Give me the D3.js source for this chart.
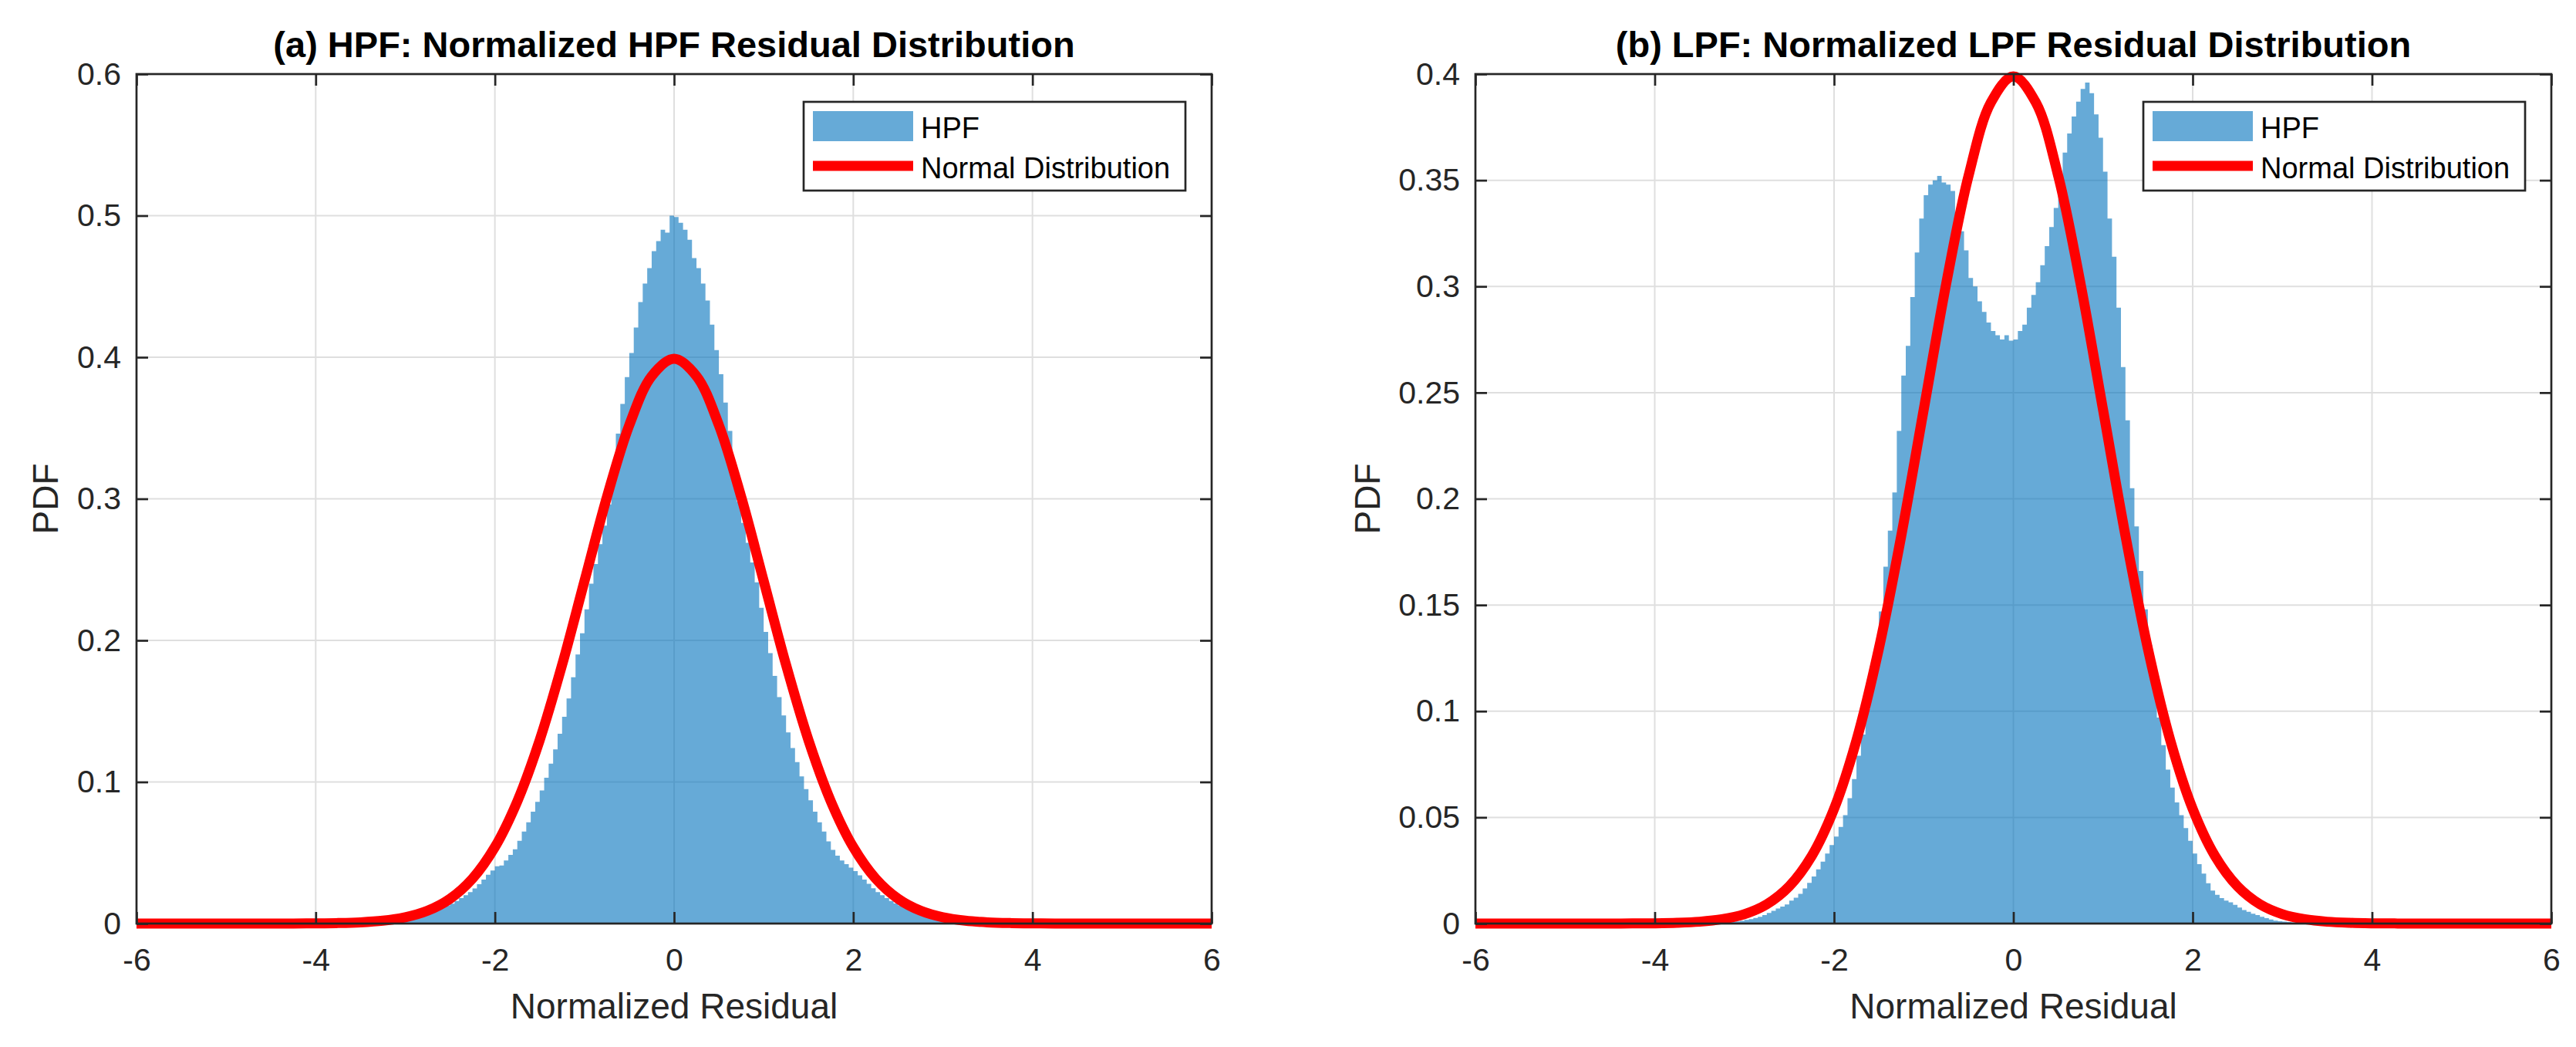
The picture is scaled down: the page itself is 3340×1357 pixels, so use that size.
<!DOCTYPE html>
<html>
<head>
<meta charset="utf-8">
<script src="https://cdn.jsdelivr.net/npm/d3@7"></script>
<style>
  body { margin: 0; background: #fff; }
  svg text { font-family: "Liberation Sans", Arial, Helvetica, sans-serif; }
</style>
</head>
<body>
<script>
// tick labels
const xTicks = [-6, -4, -2, 0, 2, 4, 6];
const yTicksHpf = [0, 0.1, 0.2, 0.3, 0.4, 0.5, 0.6];
const yTicksLpf = [0, 0.05, 0.1, 0.15, 0.2, 0.25, 0.3, 0.35, 0.4];

// histogram bins: first edge -3.5, width 0.05
const binStart = -3.5;
const binWidth = 0.05;

const hpfValues = [
  0.0004, 0.0005, 0.0007, 0.0009, 0.0011, 0.0013, 0.0016, 0.0020, 0.0024, 0.0028, // -3.5
  0.0034, 0.0041, 0.0050, 0.0060, 0.0070, 0.0080, 0.0090, 0.0102, 0.0115, 0.0128, // -3.0
  0.0140, 0.0160, 0.0180, 0.0200, 0.0222, 0.0248, 0.0278, 0.0310, 0.0345, 0.0375, // -2.5
  0.0405, 0.0410, 0.0445, 0.0485, 0.0525, 0.0585, 0.0650, 0.0715, 0.0790, 0.0860, // -2.0
  0.0940, 0.1030, 0.1130, 0.1230, 0.1340, 0.1460, 0.1590, 0.1740, 0.1900, 0.2050, // -1.5
  0.2220, 0.2400, 0.2540, 0.2680, 0.2810, 0.2960, 0.3200, 0.3460, 0.3670, 0.3860, // -1.0
  0.4030, 0.4210, 0.4390, 0.4520, 0.4630, 0.4750, 0.4820, 0.4900, 0.4880, 0.5000, // -0.5
  0.4990, 0.4950, 0.4900, 0.4830, 0.4700, 0.4630, 0.4520, 0.4400, 0.4230, 0.4050, // 0
  0.3880, 0.3680, 0.3480, 0.3240, 0.2980, 0.2830, 0.2690, 0.2550, 0.2410, 0.2230, // 0.5
  0.2060, 0.1910, 0.1750, 0.1600, 0.1470, 0.1350, 0.1240, 0.1140, 0.1040, 0.0950, // 1.0
  0.0870, 0.0790, 0.0715, 0.0650, 0.0580, 0.0520, 0.0480, 0.0445, 0.0420, 0.0395, // 1.5
  0.0370, 0.0340, 0.0310, 0.0280, 0.0250, 0.0222, 0.0200, 0.0180, 0.0160, 0.0142, // 2.0
  0.0128, 0.0115, 0.0102, 0.0090, 0.0080, 0.0070, 0.0060, 0.0050, 0.0041, 0.0034, // 2.5
  0.0028, 0.0024, 0.0020, 0.0016, 0.0013, 0.0011, 0.0009, 0.0007, 0.0005, 0.0004  // 3.0
];

const lpfValues = [
  0.0002, 0.0002, 0.0003, 0.0003, 0.0004, 0.0005, 0.0006, 0.0008, 0.0010, 0.0013, // -3.5
  0.0017, 0.0021, 0.0026, 0.0032, 0.0040, 0.0050, 0.0060, 0.0071, 0.0080, 0.0090, // -3.0
  0.0108, 0.0122, 0.0140, 0.0165, 0.0192, 0.0222, 0.0255, 0.0292, 0.0330, 0.0370, // -2.5
  0.0410, 0.0455, 0.0510, 0.0590, 0.0680, 0.0790, 0.0890, 0.1010, 0.1165, 0.1300, // -2.0
  0.1470, 0.1680, 0.1850, 0.2030, 0.2320, 0.2580, 0.2720, 0.2950, 0.3160, 0.3320, // -1.5
  0.3430, 0.3480, 0.3500, 0.3520, 0.3490, 0.3480, 0.3450, 0.3350, 0.3260, 0.3170, // -1.0
  0.3040, 0.3000, 0.2930, 0.2880, 0.2830, 0.2790, 0.2770, 0.2750, 0.2770, 0.2745, // -0.5
  0.2750, 0.2790, 0.2820, 0.2900, 0.2960, 0.3020, 0.3100, 0.3190, 0.3280, 0.3370, // 0
  0.3520, 0.3630, 0.3720, 0.3800, 0.3870, 0.3930, 0.3960, 0.3910, 0.3810, 0.3700, // 0.5
  0.3540, 0.3320, 0.3140, 0.2900, 0.2620, 0.2370, 0.2050, 0.1870, 0.1660, 0.1480, // 1.0
  0.1310, 0.1180, 0.0970, 0.0840, 0.0725, 0.0640, 0.0570, 0.0510, 0.0450, 0.0390, // 1.5
  0.0330, 0.0280, 0.0235, 0.0190, 0.0155, 0.0135, 0.0120, 0.0108, 0.0100, 0.0088, // 2.0
  0.0075, 0.0064, 0.0055, 0.0046, 0.0040, 0.0032, 0.0025, 0.0019, 0.0014, 0.0011, // 2.5
  0.0009, 0.0007, 0.0005, 0.0004, 0.0004, 0.0003, 0.0002, 0.0002, 0.0001, 0.0001  // 3.0
];

// red curve, sampled every 0.25 from -6 to 6
const normalStart = -6;
const normalStep = 0.25;
const normalPdf = [
  0, 0, 0, 0, 0, 0, 0.00002, 0.00005, 0.00013, 0.00035, 0.00087, 0.00203,
  0.00443, 0.00909, 0.01753, 0.03174, 0.05399, 0.08628, 0.12952, 0.18265, 0.24197, 0.30114,
  0.35207, 0.38667, 0.39894,
  0.38667, 0.35207, 0.30114, 0.24197, 0.18265, 0.12952, 0.08628, 0.05399, 0.03174, 0.01753,
  0.00909, 0.00443, 0.00203, 0.00087, 0.00035, 0.00013, 0.00005, 0.00002, 0, 0, 0, 0, 0, 0
];

const legendNames = ["HPF", "Normal Distribution"];

const W = 3340, H = 1357;
const TOP = 96, BOTTOM = 1197;
const INK = "#262626";
const BAR = "#0072bd";

const svg = d3.select("body").append("svg")
  .attr("width", W).attr("height", H)
  .style("background", "#fff");

function drawPanel(p) {
  const x = d3.scaleLinear().domain([-6, 6]).range([p.left, p.right]);
  const y = d3.scaleLinear().domain([0, p.yMax]).range([BOTTOM, TOP]);
  const g = svg.append("g");
  const cx = (p.left + p.right) / 2;

  // grid
  g.append("g").selectAll("line").data(xTicks.slice(1, -1)).join("line")
    .attr("x1", d => x(d)).attr("x2", d => x(d))
    .attr("y1", TOP).attr("y2", BOTTOM)
    .attr("stroke", "#dfdfdf").attr("stroke-width", 2);
  g.append("g").selectAll("line").data(p.yTicks.slice(1, -1)).join("line")
    .attr("x1", p.left).attr("x2", p.right)
    .attr("y1", d => y(d)).attr("y2", d => y(d))
    .attr("stroke", "#dfdfdf").attr("stroke-width", 2);

  // histogram as one stepped area so the bins have no seams
  const bins = p.hist.map((v, i) => ({ x0: binStart + i * binWidth, v: v }));
  bins.push({ x0: binStart + p.hist.length * binWidth, v: p.hist[p.hist.length - 1] });
  const area = d3.area()
    .curve(d3.curveStepAfter)
    .x(d => x(d.x0))
    .y0(y(0))
    .y1(d => y(d.v));
  g.append("path").datum(bins)
    .attr("d", area)
    .attr("fill", BAR).attr("fill-opacity", 0.6);

  // normal curve
  const line = d3.line()
    .curve(d3.curveCatmullRom)
    .x((d, i) => x(normalStart + i * normalStep))
    .y(d => y(d));
  g.append("path").datum(normalPdf)
    .attr("d", line)
    .attr("fill", "none")
    .attr("stroke", "#ff0000")
    .attr("stroke-width", 13)
    .attr("stroke-linejoin", "round");

  // axes, ticks pointing inward
  const fmt = d => String(+d.toFixed(2));
  const styleAxis = sel => {
    sel.attr("font-family", null).attr("font-size", 41);
    sel.select(".domain").remove();
    sel.selectAll(".tick line").attr("stroke", INK).attr("stroke-width", 2.7);
    sel.selectAll(".tick text").attr("fill", INK);
  };
  g.append("g").attr("transform", `translate(0,${BOTTOM})`)
    .call(d3.axisBottom(x).tickValues(xTicks).tickSize(-15).tickPadding(32).tickFormat(fmt))
    .call(styleAxis);
  g.append("g").attr("transform", `translate(0,${TOP})`)
    .call(d3.axisTop(x).tickValues(xTicks).tickSize(-15).tickFormat(""))
    .call(styleAxis);
  g.append("g").attr("transform", `translate(${p.left},0)`)
    .call(d3.axisLeft(y).tickValues(p.yTicks).tickSize(-15).tickPadding(20).tickFormat(fmt))
    .call(styleAxis);
  g.append("g").attr("transform", `translate(${p.right},0)`)
    .call(d3.axisRight(y).tickValues(p.yTicks).tickSize(-15).tickFormat(""))
    .call(styleAxis);

  g.append("rect")
    .attr("x", p.left).attr("y", TOP)
    .attr("width", p.right - p.left).attr("height", BOTTOM - TOP)
    .attr("fill", "none").attr("stroke", INK).attr("stroke-width", 2.7);

  // titles
  g.append("text")
    .attr("x", cx).attr("y", 74)
    .attr("text-anchor", "middle")
    .attr("font-size", 47).attr("font-weight", "bold")
    .attr("fill", "#000")
    .text(p.title);
  g.append("text")
    .attr("x", cx).attr("y", 1320)
    .attr("text-anchor", "middle")
    .attr("font-size", 46).attr("fill", INK)
    .text("Normalized Residual");
  g.append("text")
    .attr("transform", `translate(${p.yLabelX},${(TOP + BOTTOM) / 2}) rotate(-90)`)
    .attr("text-anchor", "middle")
    .attr("font-size", 46).attr("fill", INK)
    .text("PDF");

  // legend
  const lx = p.right - 34 - 495, ly = 132;
  const leg = g.append("g");
  leg.append("rect")
    .attr("x", lx).attr("y", ly).attr("width", 495).attr("height", 115)
    .attr("fill", "#fff").attr("stroke", INK).attr("stroke-width", 2.7);
  leg.append("rect")
    .attr("x", lx + 12).attr("y", 144).attr("width", 130).attr("height", 39)
    .attr("fill", BAR).attr("fill-opacity", 0.6);
  leg.append("line")
    .attr("x1", lx + 12).attr("x2", lx + 142).attr("y1", 215).attr("y2", 215)
    .attr("stroke", "#ff0000").attr("stroke-width", 13);
  leg.selectAll("text.lg").data(legendNames).join("text")
    .attr("class", "lg")
    .attr("x", lx + 152)
    .attr("y", (d, i) => i === 0 ? 179 : 231)
    .attr("font-size", 38).attr("fill", "#000")
    .text(d => d);
}

drawPanel({
  left: 177, right: 1571, yMax: 0.6, yTicks: yTicksHpf, hist: hpfValues,
  title: "(a) HPF: Normalized HPF Residual Distribution", yLabelX: 75
});
drawPanel({
  left: 1913, right: 3308, yMax: 0.4, yTicks: yTicksLpf, hist: lpfValues,
  title: "(b) LPF: Normalized LPF Residual Distribution", yLabelX: 1789
});
</script>
</body>
</html>
